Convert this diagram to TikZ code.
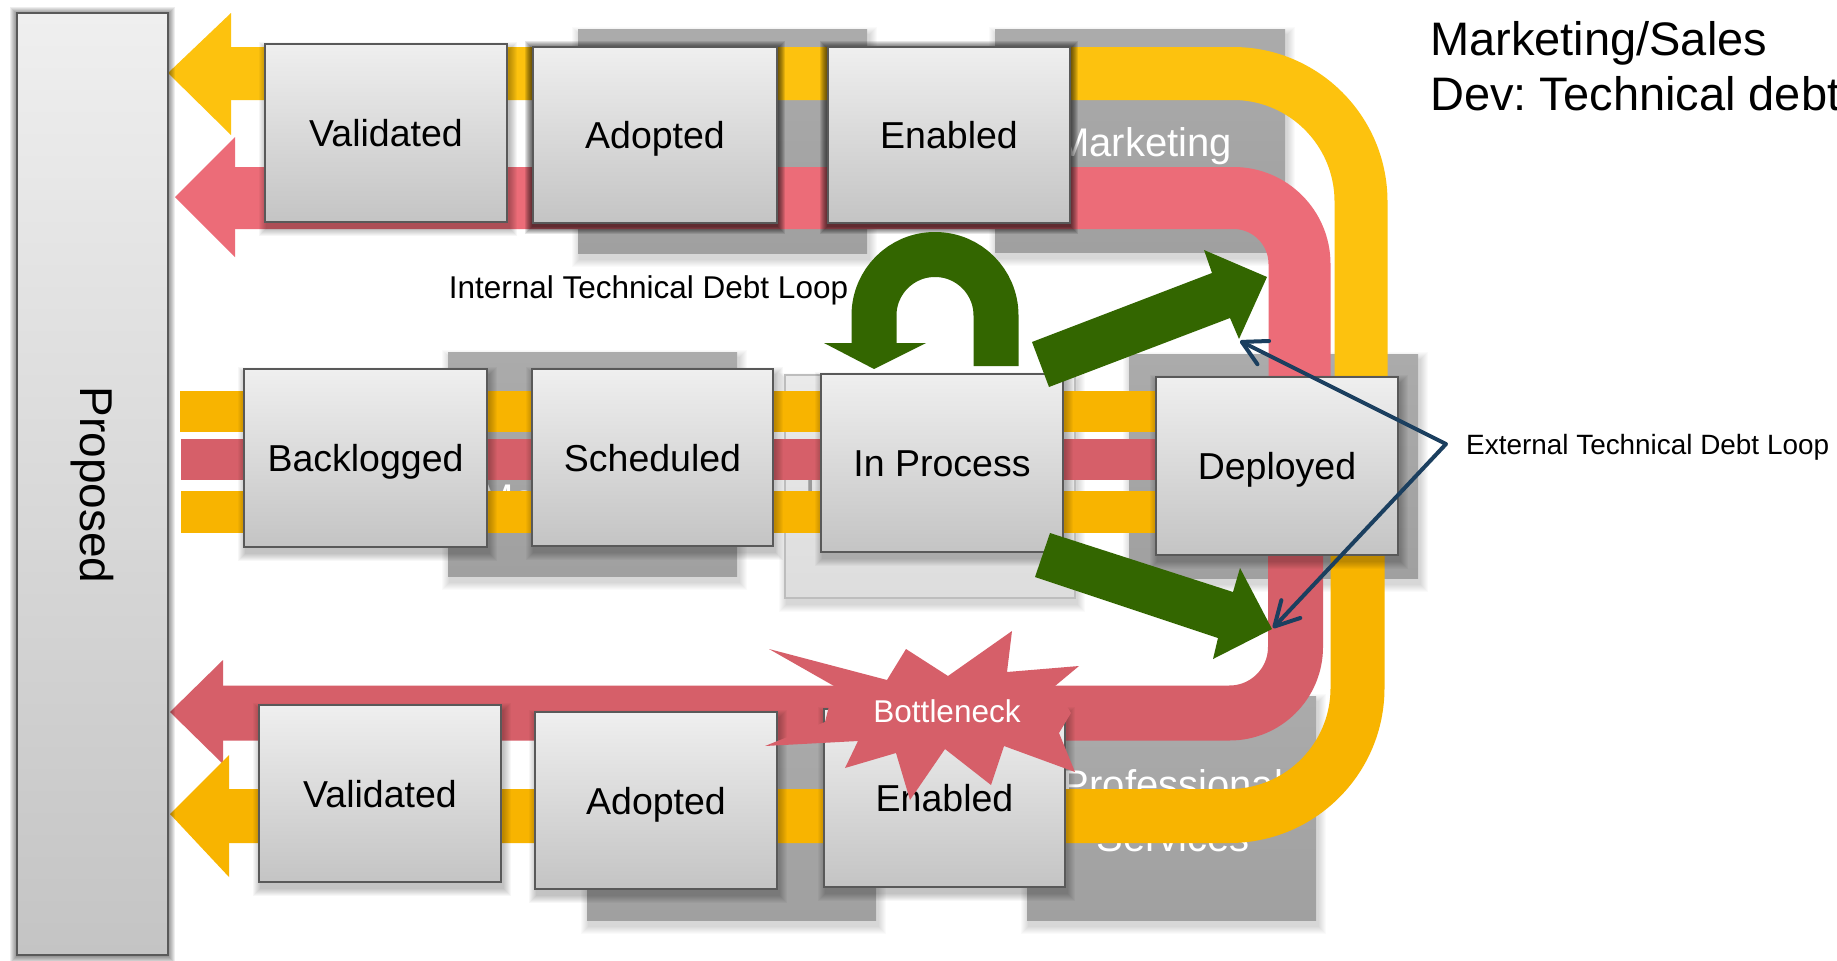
\documentclass[tikz,border=0pt]{standalone}
\usepackage{fontspec}
\setmainfont{Liberation Sans}
\usetikzlibrary{arrows.meta}
\frenchspacing

\definecolor{yelA}{HTML}{FDC20E}
\definecolor{yelB}{HTML}{F8B400}
\definecolor{redA}{HTML}{EC6C78}
\definecolor{redB}{HTML}{D65F69}
\definecolor{grn}{HTML}{336600}
\definecolor{navy}{HTML}{1B3F5F}
\definecolor{laneTop}{HTML}{ABABAB}
\definecolor{laneBot}{HTML}{A0A0A0}
\definecolor{liteTop}{HTML}{EAEAEA}
\definecolor{liteBot}{HTML}{DDDDDD}
\definecolor{liteLine}{HTML}{BDBDBD}
\definecolor{boxTop}{HTML}{EFEFEF}
\definecolor{boxBot}{HTML}{C4C4C4}
\definecolor{boxLine}{HTML}{595959}
\definecolor{devGray}{HTML}{9A9A9A}

% soft shadow below a rectangle given by its corners
\newcommand{\softshadow}[5]{%
  \foreach \k in {1,...,8}{%
    \fill[black,opacity=#5] ({#1-\k+2},{#2-\k+6}) rectangle ({#3+\k+2},{#4+\k+6});}}
% dark halo round a rectangle
\newcommand{\darkglow}[4]{%
  \foreach \k in {1,...,8}{%
    \fill[black,opacity=0.1] ({#1-\k},{#2-\k+2}) rectangle ({#3+\k},{#4+\k+3});}}
% a stage box from its corners
\newcommand{\stagenode}[6]{%
  \node[stagebox, minimum width={#4-#2}, minimum height={#5-#3}] (#1) at ({(#2+#4)/2},{(#3+#5)/2}) {#6};}
% a lane panel from its corners
\newcommand{\lanenode}[6]{%
  \softshadow{#2}{#3}{#4}{#5}{0.018}
  \node[#6, minimum width={#4-#2}, minimum height={#5-#3}] (#1) at ({(#2+#4)/2},{(#3+#5)/2}) {};}

\begin{document}
\begin{tikzpicture}[x=1pt,y=-1pt,
  stagebox/.style={draw=boxLine, line width=2pt, top color=boxTop, bottom color=boxBot,
    inner sep=0pt, text height=27pt, text depth=0pt, font=\fontsize{37.5}{45}\selectfont},
  lanebox/.style={draw=none, top color=laneTop, bottom color=laneBot, inner sep=0pt},
  litebox/.style={draw=liteLine, line width=2pt, top color=liteTop, bottom color=liteBot, inner sep=0pt},
  lanetext/.style={text=white, font=\fontsize{40}{48}\selectfont, anchor=base, inner sep=0pt},
  greenarrow/.style={fill=grn, draw=none},
  loopnote/.style={inner sep=0pt, text=black}]

\useasboundingbox (0,0) rectangle (1837,961);
\fill[white] (0,0) rectangle (1837,961);

% ---------- lane panels ----------
\lanenode{laneAdoptTop}{578}{29}{867}{253}{lanebox}
\lanenode{laneMkt}{995}{29}{1285}{252}{lanebox}
\lanenode{lanePM}{448}{352}{737}{576}{lanebox}
\lanenode{laneDev}{785}{375}{1075}{598}{litebox}
\lanenode{laneOps}{1129}{354}{1418}{578}{lanebox}
\lanenode{laneAdoptBot}{587}{697}{876}{920}{lanebox}
\lanenode{laneProf}{1027}{696}{1316}{920}{lanebox}

\node[lanetext] (txtMkt) at (1144,156) {Marketing};
\node[lanetext] (txtPMa) at (597,459) {Product};
\node[lanetext] (txtPMb) at (597,512) {Management};
\node[lanetext, text=devGray, anchor=base west] (txtDev) at (805,500) {Development};
\node[lanetext] (txtPSa) at (1173,798) {Professional};
\node[lanetext] (txtPSb) at (1173,851) {Services};

% ---------- flow bands ----------
\draw[yelA, line width=53pt, rounded corners=128pt] (229,73.5) -- (1361,73.5) -- (1361,400);
\draw[redA, line width=62pt, rounded corners=66pt] (233,198) -- (1299.5,198) -- (1299.5,400);
\draw[redB, line width=55pt, rounded corners=66pt] (1295.5,530) -- (1295.5,713) -- (221,713);
\draw[yelB, line width=54pt, rounded corners=128pt] (1357.5,530) -- (1357.5,816) -- (227,816);

\fill[yelA] (168,73) -- (231,13) -- (231,135) -- cycle;
\fill[redA] (175,197) -- (235,137) -- (235,257) -- cycle;
\fill[redB] (170,712) -- (223,660) -- (223,764) -- cycle;
\fill[yelB] (170,814) -- (229,755) -- (229,877) -- cycle;

\fill[yelB] (180,391) rectangle (1160,432);
\fill[redB] (181,439) rectangle (1160,480);
\fill[yelB] (181,491) rectangle (1160,533);

% ---------- shadows ----------
\foreach \k in {1,...,7}{%
  \fill[black,opacity=0.07] ({17-\k},{13-\k+1}) rectangle ({168+\k},{955+\k+1});}
\softshadow{265}{44}{507}{222}{0.035}
\darkglow{533}{47}{777}{223}
\darkglow{828}{47}{1070}{223}
\softshadow{244}{369}{487}{547}{0.03}
\softshadow{532}{369}{773}{546}{0.03}
\softshadow{821}{374}{1063}{552}{0.03}
\softshadow{1156}{377}{1398}{555}{0.03}
\softshadow{259}{705}{501}{882}{0.03}
\softshadow{535}{712}{777}{889}{0.03}
\softshadow{824}{709}{1065}{887}{0.03}

% ---------- stages ----------
\node[stagebox, minimum width=151pt, minimum height=942pt] (proposed) at (92.5,484) {};
\node[rotate=-90, font=\fontsize{46}{55}\selectfont, inner sep=0pt] (proposedTxt) at (92,485) {Proposed};

\stagenode{valTop}{265}{44}{507}{222}{Validated}
\stagenode{adoTop}{533}{47}{777}{223}{Adopted}
\stagenode{enaTop}{828}{47}{1070}{223}{Enabled}

\stagenode{backlog}{244}{369}{487}{547}{Backlogged}
\stagenode{sched}{532}{369}{773}{546}{Scheduled}
\stagenode{inproc}{821}{374}{1063}{552}{In Process}
\stagenode{deploy}{1156}{377}{1398}{555}{Deployed}

\stagenode{valBot}{259}{705}{501}{882}{Validated}
\stagenode{adoBot}{535}{712}{777}{889}{Adopted}
\stagenode{enaBot}{824}{709}{1065}{887}{Enabled}

% ---------- internal loop ----------
\draw[grn, line width=45pt, rounded corners=60.9pt] (996,366) -- (996,254.5) -- (874,254.5) -- (874,343.5);
\fill[greenarrow] (824,343) -- (926,343) -- (874,369) -- cycle;

% ---------- hand-off arrows ----------
\fill[greenarrow] (1032,342) -- (1212,273) -- (1204,250) -- (1267,277) -- (1239,339) -- (1230,318) -- (1049,387) -- cycle;
\fill[greenarrow] (1050,533) -- (1233,592) -- (1240,568) -- (1272,629) -- (1213,659) -- (1218,638) -- (1035,577) -- cycle;

% ---------- bottleneck burst ----------
\fill[redB] (769,649) -- (887,680) -- (906,649) -- (948,676) -- (1012,631) -- (1007,672)
  -- (1079,666) -- (1055,686) -- (1071,713) -- (1059,733) -- (1075,772) -- (1004,746)
  -- (991,785) -- (945,749) -- (910,800) -- (896,753) -- (845,768) -- (858,741)
  -- (765,746) -- (825,722) -- (834,686) -- cycle;
\node[text=white, font=\fontsize{31.5}{38}\selectfont, anchor=base, inner sep=0pt] (bneck) at (947,722) {Bottleneck};

% ---------- notes ----------
\node[loopnote, anchor=base, font=\fontsize{31.5}{37}\selectfont] (intLoop) at (648.5,298) {Internal Technical Debt Loop};
\node[loopnote, anchor=base west, font=\fontsize{27.9}{33}\selectfont] (extLoop) at (1466,454) {External Technical Debt Loop};

\coordinate (extVertex) at (1446,444);
\coordinate (extTipUp) at (1240,341);
\coordinate (extTipDn) at (1273,628);
\draw[navy, line width=4pt, line cap=round, line join=round,
  {Straight Barb[length=24pt,width=26pt,round]}-{Straight Barb[length=24pt,width=26pt,round]}]
  (extTipUp) -- (extVertex) -- (extTipDn);

\node[loopnote, anchor=base west, font=\fontsize{47}{55}\selectfont] (noteMkt) at (1430,55) {Marketing/Sales};
\node[loopnote, anchor=base west, font=\fontsize{47}{55}\selectfont] (noteDev) at (1430,110) {Dev: Technical debt};

\end{tikzpicture}
\end{document}
